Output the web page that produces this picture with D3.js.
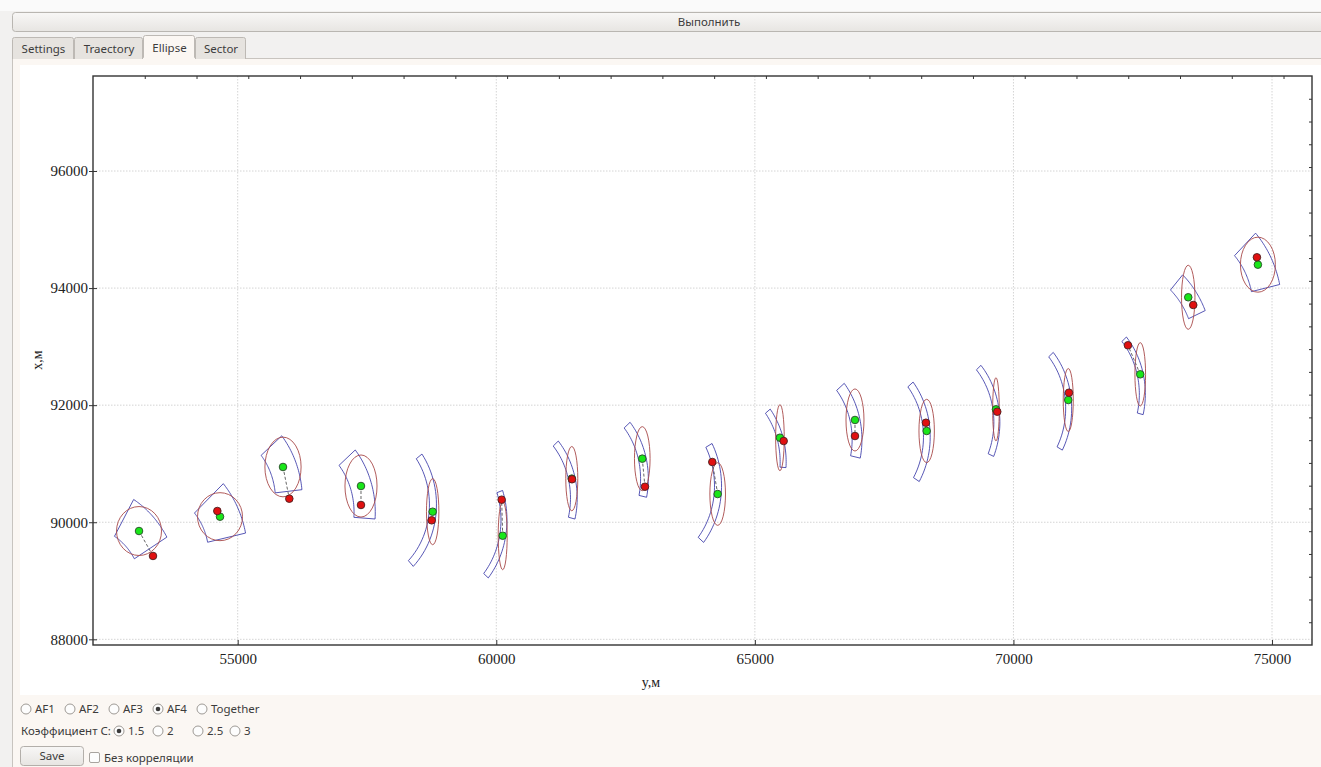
<!DOCTYPE html>
<html><head><meta charset="utf-8">
<script src="https://cdn.jsdelivr.net/npm/d3@7"></script>
<style>
html,body{margin:0;padding:0;background:#f2f1f0;}
svg{display:block;}
.ui{font-family:"Noto Sans","Open Sans",sans-serif;font-size:11.5px;fill:#3c3c3c;}
.tick-label{font-family:"Liberation Serif","DejaVu Serif",serif;font-size:15px;fill:#222;}
</style></head>
<body>
<svg id="c" width="1321" height="767"></svg>
<script>
// ---------- data ----------
const xTicks = [55000, 60000, 65000, 70000, 75000];
const yTicks = [88000, 90000, 92000, 94000, 96000];
const xDomain = [52202, 75773];
const yDomain = [87903, 97623];

// estimated (green) points, y = horizontal, x = vertical
const greenY = [53092, 54658, 55876, 57384, 58770, 60124, 61460, 62823, 64281, 65485, 66936, 68322, 69662, 71060, 72452, 73380, 74727];
const greenX = [89850, 90095, 90944, 90619, 90180, 89770, 90745, 91086, 90482, 91444, 91747, 91559, 91929, 92088, 92527, 93843, 94400];
// true (red) points
const redY = [53362, 54606, 55998, 57384, 58751, 60104, 61464, 62875, 64177, 65557, 66936, 68308, 69687, 71073, 72214, 73477, 74708];
const redX = [89424, 90192, 90402, 90295, 90033, 90385, 90734, 90607, 91029, 91388, 91473, 91700, 91888, 92213, 93023, 93711, 94526];
// error ellipse semi-axes (m)
const ellSY = [435, 435, 350, 310, 120, 87, 116, 151, 151, 83, 174, 149, 64, 97, 103, 130, 338];
const ellSX = [418, 410, 510, 530, 564, 581, 549, 547, 535, 564, 530, 541, 541, 538, 541, 547, 470];
// sector: bearing to centre of curvature (deg), radius (m), half range width (m), half angle (deg)
const secBearing = [225, 207, 203, 198, 175, 169.5, 193.6, 194, 174.5, 197, 193.6, 184, 189, 186, 193.7, 215.5, 208];
const secRadius  = [1450, 1456, 1450, 1450, 1400, 1480, 1420, 1420, 1450, 1420, 1420, 1420, 1420, 1420, 1420, 1600, 1590];
const secHalfR   = [365, 375, 260, 205, 68, 58, 65, 75, 68, 58, 95, 65, 58, 58, 58, 175, 280];
const secHalfA   = [14.5, 15, 17, 22, 41, 29.6, 27.5, 26.2, 34, 20.7, 25.7, 35, 32.2, 34.6, 27.5, 12.2, 15.4];

const svg = d3.select("#c");

// ---------- window chrome ----------
svg.append("rect").attr("x",0).attr("y",0).attr("width",1321).attr("height",767).attr("fill","#f2f1f0");
svg.append("rect").attr("x",0).attr("y",0).attr("width",1321).attr("height",11).attr("fill","#fafafa");
const defs = svg.append("defs");
const g1 = defs.append("linearGradient").attr("id","btn").attr("x1",0).attr("x2",0).attr("y1",0).attr("y2",1);
g1.append("stop").attr("offset","0%").attr("stop-color","#f8f7f6");
g1.append("stop").attr("offset","100%").attr("stop-color","#e7e5e2");
svg.append("rect").attr("x",12.5).attr("y",12.5).attr("width",1320).attr("height",19).attr("rx",3)
  .attr("fill","url(#btn)").attr("stroke","#b9b6b1");
svg.append("text").attr("class","ui").attr("x",709).attr("y",26).attr("text-anchor","middle").attr("fill","#2c2c2c").text("Выполнить");

// tab pane
svg.append("rect").attr("x",12.5).attr("y",58.5).attr("width",1320).attr("height",720).attr("fill","#fbf7f3").attr("stroke","#c8c4bf");
const tabs = [{t:"Settings",x0:12,x1:73},{t:"Traectory",x0:74,x1:142},{t:"Ellipse",x0:143,x1:194,a:true},{t:"Sector",x0:195,x1:245}];
tabs.forEach(d=>{
  const top = d.a?35.5:37.5;
  svg.append("path").attr("d",`M${d.x0+0.5},59 L${d.x0+0.5},${top+2} Q${d.x0+0.5},${top} ${d.x0+2.5},${top} L${d.x1-1.5},${top} Q${d.x1+0.5},${top} ${d.x1+0.5},${top+2} L${d.x1+0.5},59`)
    .attr("fill", d.a?"#fbf7f3":"#e6e3df").attr("stroke","#bdb9b4");
  svg.append("text").attr("class","ui").attr("x",(d.x0+d.x1)/2+1).attr("y",d.a?52:53).attr("text-anchor","middle").attr("fill","#333").text(d.t);
});
svg.append("line").attr("x1",143).attr("x2",195).attr("y1",58.5).attr("y2",58.5).attr("stroke","#fbf7f3").attr("stroke-width",1.5);

// chart widget area
svg.append("rect").attr("x",20).attr("y",65).attr("width",1301).attr("height",630).attr("fill","#ffffff");

// ---------- chart ----------
const L=93, R=1312, T=76, B=645;
const x = d3.scaleLinear().domain(xDomain).range([L,R]);
const y = d3.scaleLinear().domain(yDomain).range([B,T]);
const xTop = d3.scaleLinear().domain([0,23.55]).range([L,R]);
const yRight = d3.scaleLinear().domain([0,25]).range([B,T]);

const plot = svg.append("g");
// grid
plot.selectAll(".gx").data(xTicks).join("line").attr("x1",d=>x(d)).attr("x2",d=>x(d)).attr("y1",T).attr("y2",B)
  .attr("stroke","#d4d4d4").attr("stroke-dasharray","1.5,1.5");
plot.selectAll(".gy").data(yTicks).join("line").attr("x1",L).attr("x2",R).attr("y1",d=>y(d)).attr("y2",d=>y(d))
  .attr("stroke","#d4d4d4").attr("stroke-dasharray","1.5,1.5");

// axes
const ax = svg.append("g").attr("transform",`translate(0,${B})`).call(d3.axisBottom(x).tickValues(xTicks).tickSize(-5).tickPadding(8).tickFormat(d3.format("d")));
const ay = svg.append("g").attr("transform",`translate(${L},0)`).call(d3.axisLeft(y).tickValues(yTicks).tickSize(4).tickPadding(1).tickFormat(d3.format("d")));
const at = svg.append("g").attr("transform",`translate(0,${T})`).call(d3.axisTop(xTop).tickValues(d3.range(1,24)).tickSize(-3).tickFormat(""));
const ar = svg.append("g").attr("transform",`translate(${R},0)`).call(d3.axisRight(yRight).tickValues(d3.range(1,25)).tickSize(-3).tickFormat(""));
[ax,ay,at,ar].forEach(a=>{
  a.select(".domain").remove();
  a.selectAll("line").attr("stroke","#333");
  a.selectAll("text").attr("class","tick-label");
});
ay.selectAll(".tick line").attr("x2",4).attr("x1",-4);
svg.append("rect").attr("x",L).attr("y",T).attr("width",R-L).attr("height",B-T).attr("fill","none").attr("stroke","#333").attr("stroke-width",1.4);

svg.append("text").attr("class","tick-label").attr("x",651).attr("y",687).attr("text-anchor","middle").style("font-size","14px").text("y,м");
svg.append("text").attr("class","tick-label").attr("transform","translate(42,360) rotate(-90)").attr("text-anchor","middle").style("font-size","14px").text("x,м");

// sectors
const idx = d3.range(greenY.length);
function sectorPts(i){
  const phi = secBearing[i]*Math.PI/180, rho = secRadius[i];
  const oY = greenY[i] + rho*Math.cos(phi), oX = greenX[i] + rho*Math.sin(phi);
  const base = phi + Math.PI, dt = secHalfA[i]*Math.PI/180, n = 30;
  const pts = [];
  for(let k=0;k<=n;k++){const a=base-dt+2*dt*k/n; pts.push([oY+(rho+secHalfR[i])*Math.cos(a), oX+(rho+secHalfR[i])*Math.sin(a)]);}
  for(let k=n;k>=0;k--){const a=base-dt+2*dt*k/n; pts.push([oY+(rho-secHalfR[i])*Math.cos(a), oX+(rho-secHalfR[i])*Math.sin(a)]);}
  return pts;
}
const line = d3.line().x(d=>x(d[0])).y(d=>y(d[1]));
const marks = svg.append("g");
marks.selectAll(".sec").data(idx).join("path").attr("d",i=>line(sectorPts(i))+"Z")
  .attr("fill","none").attr("stroke","#3a3aa8").attr("stroke-width",1).attr("stroke-opacity",0.85);
marks.selectAll(".ell").data(idx).join("ellipse")
  .attr("cx",i=>x(greenY[i])).attr("cy",i=>y(greenX[i]))
  .attr("rx",i=>x(greenY[i]+ellSY[i])-x(greenY[i])).attr("ry",i=>y(greenX[i])-y(greenX[i]+ellSX[i]))
  .attr("fill","none").attr("stroke","#a84a4a").attr("stroke-width",1).attr("stroke-opacity",0.9);
marks.selectAll(".dl").data(idx).join("line")
  .attr("x1",i=>x(greenY[i])).attr("y1",i=>y(greenX[i])).attr("x2",i=>x(redY[i])).attr("y2",i=>y(redX[i]))
  .attr("stroke","#666").attr("stroke-dasharray","3,2").attr("stroke-width",1);
marks.selectAll(".gp").data(idx).join("circle").attr("cx",i=>x(greenY[i])).attr("cy",i=>y(greenX[i])).attr("r",3.8)
  .attr("fill","#19e619").attr("stroke","#2a4a2a").attr("stroke-width",0.9);
marks.selectAll(".rp").data(idx).join("circle").attr("cx",i=>x(redY[i])).attr("cy",i=>y(redX[i])).attr("r",3.8)
  .attr("fill","#e01010").attr("stroke","#4a2020").attr("stroke-width",0.9);

// ---------- controls ----------
function radio(cx,cy,checked){
  svg.append("circle").attr("cx",cx).attr("cy",cy).attr("r",5).attr("fill","#fdfdfd").attr("stroke","#9e9a95");
  if(checked) svg.append("circle").attr("cx",cx).attr("cy",cy).attr("r",2.3).attr("fill","#3a3a3a");
}
const row1 = [{x:26,t:"AF1"},{x:70,t:"AF2"},{x:114,t:"AF3"},{x:158,t:"AF4",c:true},{x:202,t:"Together"}];
row1.forEach(d=>{radio(d.x,709,d.c); svg.append("text").attr("class","ui").attr("x",d.x+9).attr("y",713).text(d.t);});
svg.append("text").attr("class","ui").attr("x",21).attr("y",735).text("Коэффициент С:");
const row2 = [{x:119,t:"1.5",c:true},{x:158,t:"2"},{x:198,t:"2.5"},{x:235,t:"3"}];
row2.forEach(d=>{radio(d.x,731,d.c); svg.append("text").attr("class","ui").attr("x",d.x+9).attr("y",735).text(d.t);});
svg.append("rect").attr("x",20.5).attr("y",746.5).attr("width",63).attr("height",19).attr("rx",3).attr("fill","url(#btn)").attr("stroke","#b3afaa");
svg.append("text").attr("class","ui").attr("x",52).attr("y",760).attr("text-anchor","middle").text("Save");
svg.append("rect").attr("x",89.5).attr("y",752.5).attr("width",10).attr("height",10).attr("rx",1.5).attr("fill","#fdfdfd").attr("stroke","#a8a49f");
svg.append("text").attr("class","ui").attr("x",104).attr("y",762).text("Без корреляции");
</script>
</body></html>
